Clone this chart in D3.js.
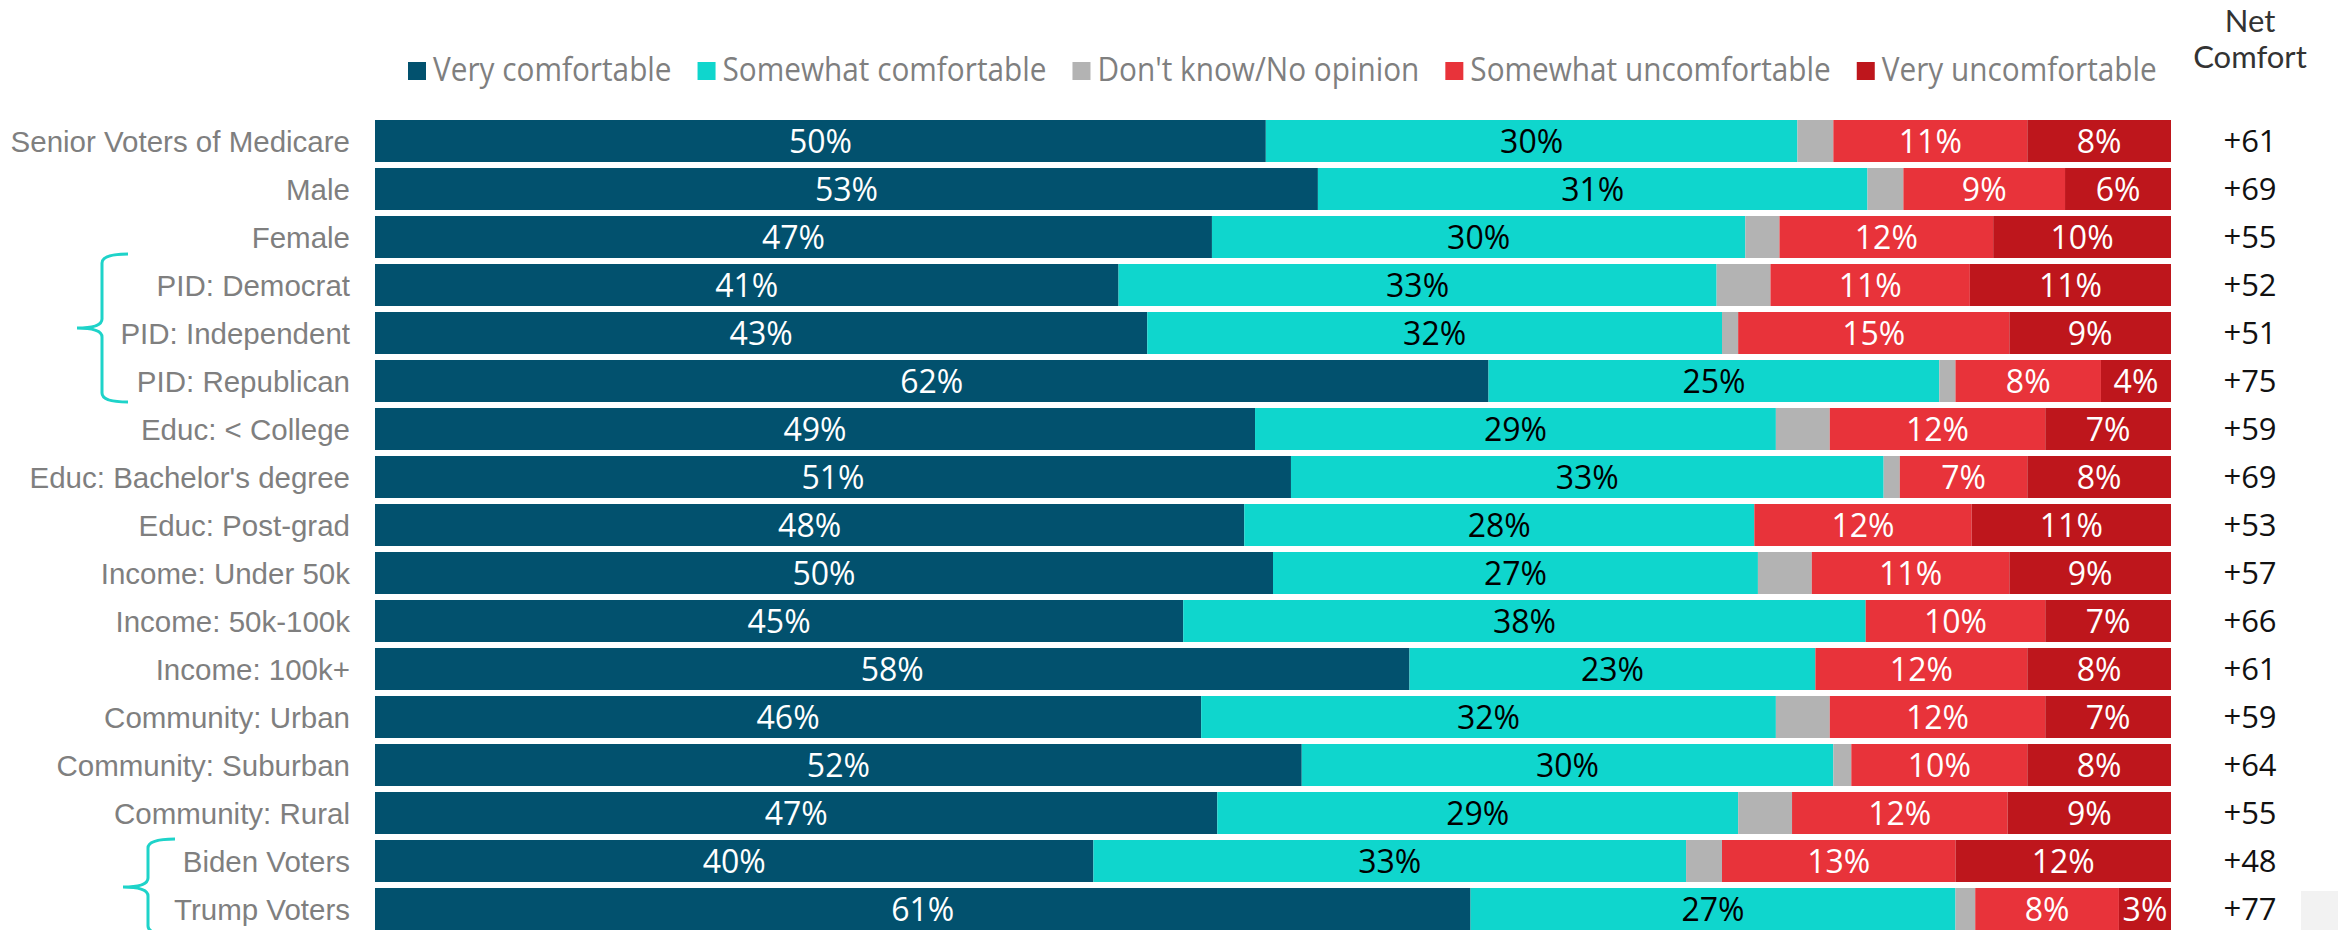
<!DOCTYPE html>
<html>
<head>
<meta charset="utf-8">
<script src="https://cdn.jsdelivr.net/npm/d3@7"></script>
<style>
  html, body { margin: 0; padding: 0; background: #ffffff; }
  svg { display: block; }
</style>
</head>
<body>
<svg id="chart" width="2338" height="930"></svg>
<script>
// ---------- DATA ----------
const categories = [
  "Senior Voters of Medicare", "Male", "Female",
  "PID: Democrat", "PID: Independent", "PID: Republican",
  "Educ: < College", "Educ: Bachelor's degree", "Educ: Post-grad",
  "Income: Under 50k", "Income: 50k-100k", "Income: 100k+",
  "Community: Urban", "Community: Suburban", "Community: Rural",
  "Biden Voters", "Trump Voters"
];
const seriesNames = ["Very comfortable", "Somewhat comfortable", "Don't know/No opinion",
                     "Somewhat uncomfortable", "Very uncomfortable"];
const veryComfortable      = [49.6, 52.5, 46.6, 41.4, 43.0, 62.0, 49.0, 51.0, 48.4, 50.0, 45.0, 57.6, 46.0, 51.6, 46.9, 40.0, 61.0];
const somewhatComfortable  = [29.6, 30.6, 29.7, 33.3, 32.0, 25.1, 29.0, 33.0, 28.4, 27.0, 38.0, 22.6, 32.0, 29.6, 29.0, 33.0, 27.0];
const dontKnow             = [ 2.0,  2.0,  1.9,  3.0,  0.9,  0.9,  3.0,  0.9,  0.0,  3.0,  0.0,  0.0,  3.0,  1.0,  3.0,  2.0,  1.1];
const somewhatUncomfortable= [10.8,  9.0, 11.9, 11.1, 15.1,  8.1, 12.0,  7.1, 12.1, 11.0, 10.0, 11.8, 12.0,  9.8, 12.0, 13.0,  8.0];
const veryUncomfortable    = [ 8.0,  5.9,  9.9, 11.2,  9.0,  3.9,  7.0,  8.0, 11.1,  9.0,  7.0,  8.0,  7.0,  8.0,  9.1, 12.0,  2.9];
const netComfort           = [61, 69, 55, 52, 51, 75, 59, 69, 53, 57, 66, 61, 59, 64, 55, 48, 77];

// ---------- STYLE ----------
const colors = ["#02516E", "#0FD6CD", "#B3B3B3", "#E8333A", "#BE161C"];
const labelColors = ["#ffffff", "#000000", null, "#ffffff", "#ffffff"];
const braceColor = "#1ED3C9";

const svg = d3.select("#chart");

const seriesArrays = [veryComfortable, somewhatComfortable, dontKnow, somewhatUncomfortable, veryUncomfortable];
const rows = categories.map((c, i) => {
  const vals = seriesArrays.map(a => a[i]);
  let cum = 0;
  const segs = vals.map((v, k) => { const s = {k, x0: cum, x1: cum + v, v}; cum += v; return s; });
  return {cat: c, segs, net: netComfort[i]};
});

const x = d3.scaleLinear().domain([0, 100]).range([375, 2171]);
const y = d3.scaleBand().domain(categories).range([120, 930]).paddingInner(0.125).paddingOuter(0);

// ---------- BARS ----------
const rowG = svg.append("g").selectAll("g.row").data(rows).join("g")
  .attr("class", "row")
  .attr("transform", d => `translate(0,${y(d.cat)})`);

rowG.selectAll("rect").data(d => d.segs.filter(s => s.v > 0)).join("rect")
  .attr("x", s => x(s.x0))
  .attr("width", s => x(s.x1) - x(s.x0))
  .attr("y", 0)
  .attr("height", y.bandwidth())
  .attr("fill", s => colors[s.k]);

rowG.selectAll("text.val").data(d => d.segs.filter(s => labelColors[s.k] && s.v > 0)).join("text")
  .attr("class", "val")
  .attr("x", s => (x(s.x0) + x(s.x1)) / 2)
  .attr("y", y.bandwidth() / 2)
  .attr("dy", "0.37em")
  .attr("text-anchor", "middle")
  .attr("fill", s => labelColors[s.k])
  .style("font-family", "'Open Sans', sans-serif")
  .style("font-size", "32px")
  .text(s => Math.round(s.v) + "%");

// ---------- CATEGORY AXIS LABELS ----------
const yAxis = d3.axisLeft(y).tickSize(0).tickPadding(0);
const axG = svg.append("g").attr("transform", "translate(350,0)").call(yAxis);
axG.select(".domain").remove();
axG.selectAll("text")
  .attr("fill", "#7F7F7F")
  .attr("dy", "0.36em")
  .style("font-family", "'Liberation Sans', Arial, sans-serif")
  .style("font-size", "29.5px");

// ---------- NET COMFORT ----------
const netX = 2250;
svg.append("g").selectAll("text").data(rows).join("text")
  .attr("x", netX)
  .attr("y", d => y(d.cat) + y.bandwidth() / 2)
  .attr("dy", "0.37em")
  .attr("text-anchor", "middle")
  .attr("fill", "#111111")
  .style("font-family", "'Open Sans', sans-serif")
  .style("font-size", "31px")
  .text(d => "+" + d.net);

const hdrStyle = sel => sel.attr("text-anchor", "middle")
  .attr("fill", "#333333")
  .style("font-family", "Lato, 'Open Sans', sans-serif")
  .style("font-size", "31px");
svg.append("text").attr("x", netX).attr("y", 32).call(hdrStyle).text("Net");
svg.append("text").attr("x", netX).attr("y", 68).call(hdrStyle).text("Comfort");

// ---------- LEGEND ----------
const legend = svg.append("g");
let lx = 408;
const legendScaleX = 0.93;
seriesNames.forEach((name, k) => {
  legend.append("rect").attr("x", lx).attr("y", 62).attr("width", 18).attr("height", 18).attr("fill", colors[k]);
  const t = legend.append("text")
    .attr("transform", `translate(${lx + 25},81) scale(${legendScaleX},1)`)
    .attr("fill", "#7F7F7F")
    .style("font-family", "'Open Sans', sans-serif")
    .style("font-size", "32px")
    .text(name);
  const w = t.node().getComputedTextLength() * legendScaleX;
  lx += 25 + w + 26;
});

// ---------- BRACES ----------
function bracePath(xTip, xLine, xEnd, yTop, yBot) {
  const yMid = (yTop + yBot) / 2, r = 9;
  return `M${xEnd},${yTop} Q${xLine},${yTop} ${xLine},${yTop + r} L${xLine},${yMid - r}` +
         ` Q${xLine},${yMid} ${xTip},${yMid} Q${xLine},${yMid} ${xLine},${yMid + r}` +
         ` L${xLine},${yBot - r} Q${xLine},${yBot} ${xEnd},${yBot}`;
}
svg.append("path")
  .attr("d", bracePath(77, 102, 128, y("PID: Democrat") - 10, y("PID: Republican") + y.bandwidth()))
  .attr("fill", "none").attr("stroke", braceColor).attr("stroke-width", 3);
svg.append("path")
  .attr("d", bracePath(123, 148, 175, y("Biden Voters") - 1, y("Trump Voters") + y.bandwidth() + 5))
  .attr("fill", "none").attr("stroke", braceColor).attr("stroke-width", 3);

// ---------- corner box ----------
svg.append("rect").attr("x", 2301).attr("y", 891).attr("width", 37).attr("height", 39).attr("fill", "#F2F2F2");
</script>
</body>
</html>
